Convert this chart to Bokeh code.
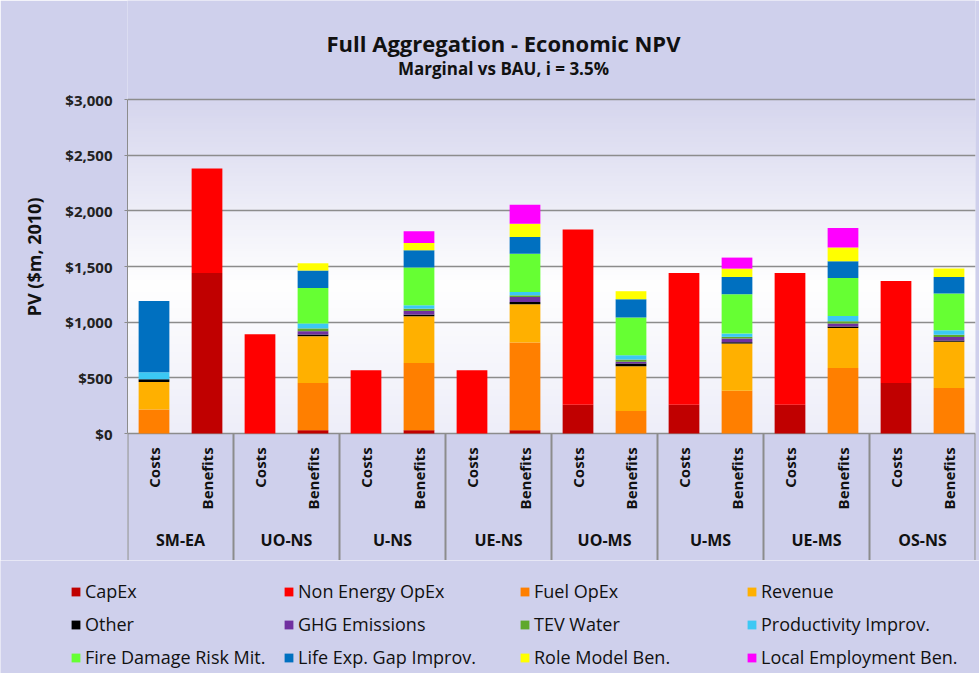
import math
import numpy as np
from bokeh.plotting import figure
from bokeh.layouts import column, row
from bokeh.models import (ColumnDataSource, FactorRange, Range1d, FixedTicker,
                          NumeralTickFormatter, Legend, LegendItem, Label, Title)
from bokeh.core.properties import value
from bokeh.embed import file_html
from bokeh.resources import INLINE

# ---------------- data ----------------
GROUPS = ["SM-EA", "UO-NS", "U-NS", "UE-NS", "UO-MS", "U-MS", "UE-MS", "OS-NS"]
SUBS = ["Costs", "Benefits"]

SERIES = ["CapEx", "Non Energy OpEx", "Fuel OpEx", "Revenue",
          "Other", "GHG Emissions", "TEV Water", "Productivity Improv.",
          "Fire Damage Risk Mit.", "Life Exp. Gap Improv.", "Role Model Ben.", "Local Employment Ben."]
COLORS = ["#C00000", "#FF0000", "#FF7F00", "#FFB000",
          "#000000", "#7030A0", "#5FA82B", "#3CC8F4",
          "#66FF33", "#0070C0", "#FFFF00", "#FF00FF"]

# order: SM-EA C, SM-EA B, UO-NS C, UO-NS B, U-NS C, U-NS B, UE-NS C, UE-NS B,
#        UO-MS C, UO-MS B, U-MS C, U-MS B, UE-MS C, UE-MS B, OS-NS C, OS-NS B
capex        = [0, 1442, 0, 30, 0, 30, 0, 30, 258, 0, 258, 0, 258, 0, 454, 0]
non_energy   = [0, 938, 892, 0, 568, 0, 568, 0, 1574, 0, 1184, 0, 1184, 0, 916, 0]
fuel_opex    = [216, 0, 0, 424, 0, 604, 0, 787, 0, 203, 0, 383, 0, 589, 0, 409]
revenue      = [247, 0, 0, 420, 0, 419, 0, 344, 0, 401, 0, 425, 0, 359, 0, 414]
other        = [25, 0, 0, 15, 0, 15, 0, 20, 0, 25, 0, 12, 0, 12, 0, 12]
ghg          = [0, 0, 0, 30, 0, 33, 0, 45, 0, 15, 0, 33, 0, 28, 0, 32]
tev_water    = [0, 0, 0, 25, 0, 20, 0, 15, 0, 20, 0, 15, 0, 20, 0, 20]
productivity = [63, 0, 0, 45, 0, 31, 0, 30, 0, 39, 0, 30, 0, 48, 0, 41]
fire_damage  = [0, 0, 0, 318, 0, 339, 0, 344, 0, 339, 0, 353, 0, 341, 0, 329]
life_exp     = [638, 0, 0, 157, 0, 155, 0, 150, 0, 164, 0, 155, 0, 150, 0, 149]
role_model   = [0, 0, 0, 65, 0, 66, 0, 120, 0, 72, 0, 75, 0, 123, 0, 75]
local_emp    = [0, 0, 0, 0, 0, 105, 0, 170, 0, 0, 0, 99, 0, 176, 0, 0]

YTICKS = [0, 500, 1000, 1500, 2000, 2500, 3000]

TITLE = "Full Aggregation - Economic NPV"
SUBTITLE = "Marginal vs BAU, i = 3.5%"
YLABEL = "PV ($m, 2010)"

# ---------------- build ----------------
factors = [(g, s) for g in GROUPS for s in SUBS]
values = [capex, non_energy, fuel_opex, revenue, other, ghg, tev_water,
          productivity, fire_damage, life_exp, role_model, local_emp]
data = {"x": factors}
for name, vals in zip(SERIES, values):
    data[name] = vals
source = ColumnDataSource(data)

BG = "#CFD0EC"
GRID = "#8C8C8C"
FONT = "Open Sans"
TXT = "#111111"

# main figure: frame spans from top of page down to bottom of the category box
UPP = YTICKS[-1] / (433 - 99)          # data units per pixel
Y_START = -(560 - 433) * UPP
Y_END = YTICKS[-1] + 99 * UPP
p = figure(width=979, height=560, output_backend="svg", toolbar_location=None,
           x_range=FactorRange(factors=factors, range_padding=0, group_padding=0,
                               factor_padding=0, subgroup_padding=0),
           y_range=Range1d(Y_START, Y_END),
           x_axis_location=None, title=None,
           min_border_left=127, min_border_right=4, min_border_top=0, min_border_bottom=0)
p.background_fill_color = BG
p.border_fill_color = BG
p.outline_line_color = None

# plot-area gradient background
H = 128
img = np.empty((H, 1), dtype=np.uint32)
view = img.view(dtype=np.uint8).reshape((H, 1, 4))
t = np.linspace(0, 1, H)
stops = [0.0, 0.45, 1.0]
cols = np.array([[238, 238, 249], [255, 255, 255], [214, 214, 238]])
for c in range(3):
    view[:, 0, c] = np.interp(t, stops, cols[:, c]).astype(np.uint8)
view[:, 0, 3] = 255
p.image_rgba(image=[img], x=0, y=0, dw=len(factors), dh=YTICKS[-1], level="image")

# axes and grid
yax = p.yaxis[0]
yax.ticker = FixedTicker(ticks=YTICKS)
yax.bounds = (YTICKS[0], YTICKS[-1])
yax.formatter = NumeralTickFormatter(format="$0,0")
yax.major_label_text_font = FONT
yax.major_label_text_font_style = "bold"
yax.major_label_text_font_size = "15px"
yax.major_label_text_color = "#222222"
yax.axis_line_color = GRID
yax.major_tick_line_color = GRID
yax.major_tick_in = 0
yax.major_tick_out = 3
yax.minor_tick_line_color = None
yax.major_label_standoff = 12
p.add_layout(Title(text=YLABEL, align="right", offset=197, text_font=FONT,
                   text_font_style="bold", text_font_size="18px", text_color=TXT,
                   standoff=34), "left")
p.xgrid.grid_line_color = None
p.ygrid.ticker = FixedTicker(ticks=YTICKS)
p.ygrid.grid_line_color = GRID
p.ygrid.grid_line_width = 1.5

# bars
p.vbar_stack(SERIES, x="x", width=0.58, color=COLORS, source=source, line_color=None)

# category box: separators and labels
seps = list(range(0, len(factors) + 1, len(SUBS)))
p.segment(x0=seps, y0=[0] * len(seps), x1=seps, y1=[Y_START] * len(seps),
          line_color=GRID, line_width=2)
p.text(x=factors, y=[-125] * len(factors), text=[s for _, s in factors],
       angle=math.pi / 2, text_align="right", text_baseline="middle",
       text_font=value(FONT), text_font_style="bold", text_font_size="15px",
       text_color=TXT)
p.text(x=GROUPS, y=[-960] * len(GROUPS), text=GROUPS,
       text_align="center", text_baseline="middle",
       text_font=value(FONT), text_font_style="bold", text_font_size="16px",
       text_color=TXT)

# titles (inside the frame, above the value range)
p.add_layout(Label(x=376, y=518, x_units="screen", y_units="screen", text=TITLE,
                   text_align="center", text_baseline="middle", text_font=FONT,
                   text_font_style="bold", text_font_size="22px", text_color=TXT))
p.add_layout(Label(x=376, y=492, x_units="screen", y_units="screen", text=SUBTITLE,
                   text_align="center", text_baseline="middle", text_font=FONT,
                   text_font_style="bold", text_font_size="17px", text_color=TXT))

# legend strip below: same stacked series (hidden), only the legend is shown
q = figure(width=979, height=113, output_backend="svg", toolbar_location=None,
           x_range=FactorRange(factors=factors), y_range=Range1d(-2, -1),
           x_axis_location=None, y_axis_location=None, title=None,
           min_border_left=0, min_border_right=0, min_border_top=0, min_border_bottom=0)
q.background_fill_color = BG
q.border_fill_color = BG
q.outline_line_color = None
q.grid.visible = False
swatches = q.vbar_stack(SERIES, x="x", width=0.58, color=COLORS, source=source,
                        line_color=None)
for s in swatches:
    s.visible = False

col_x = [70, 283, 519, 746]
for ci, cx in enumerate(col_x):
    items = [LegendItem(label=SERIES[r * 4 + ci], renderers=[swatches[r * 4 + ci]])
             for r in range(3)]
    leg = Legend(items=items, location=(cx, 4), orientation="vertical",
                 padding=0, margin=0, spacing=9, label_height=20,
                 glyph_width=11, glyph_height=11, label_standoff=4,
                 border_line_color=None, background_fill_alpha=0,
                 inactive_fill_alpha=0,
                 label_text_font=FONT, label_text_font_size="18px",
                 label_text_color=TXT)
    q.add_layout(leg)

layout = column(p, row(q), spacing=0)
open("out.html", "w").write(file_html(layout, INLINE))
